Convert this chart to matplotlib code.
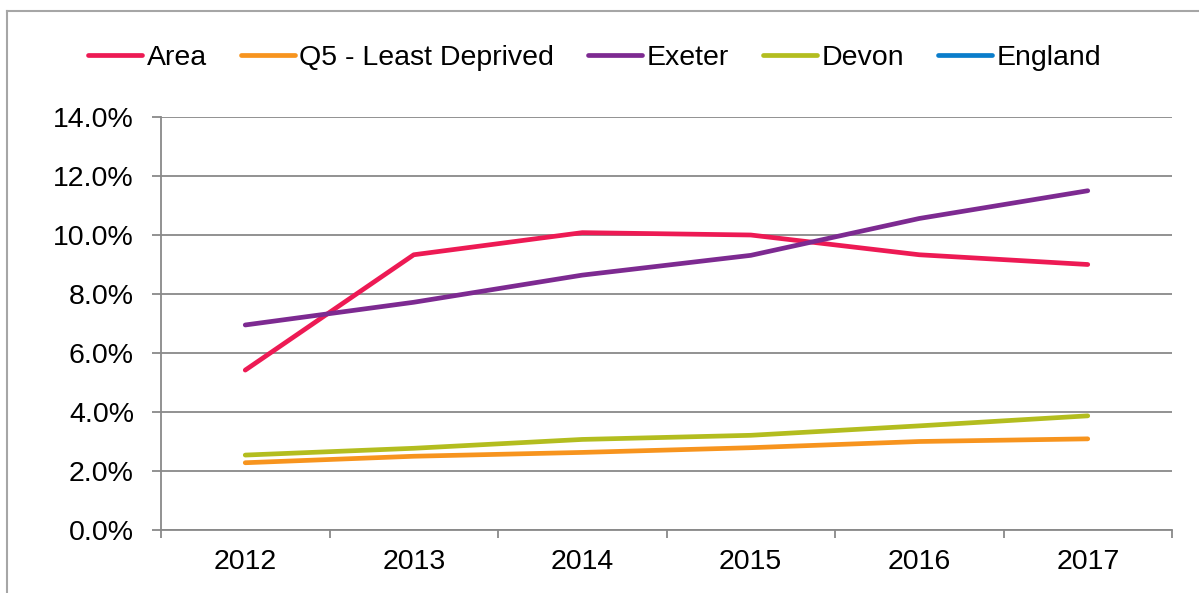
#!/usr/bin/env python3
# -*- coding: utf-8 -*-

"""Line chart of yearly rates by area."""

# dependencies
import numpy as np
from matplotlib import pyplot as plt
from matplotlib.lines import Line2D
from matplotlib.ticker import FixedLocator, PercentFormatter

# data
years = ['2012', '2013', '2014', '2015', '2016', '2017']
area = [5.42, 9.33, 10.08, 10.0, 9.33, 9.0]
q5_least_deprived = [2.28, 2.5, 2.63, 2.79, 3.0, 3.09]
exeter = [6.95, 7.72, 8.64, 9.31, 10.56, 11.5]
devon = [2.54, 2.77, 3.07, 3.21, 3.53, 3.87]
england = []

series = [
    ('Area', area, '#ED1A54'),
    ('Q5 - Least Deprived', q5_least_deprived, '#F7941E'),
    ('Exeter', exeter, '#7D2A91'),
    ('Devon', devon, '#B3BD1F'),
    ('England', england, '#0A7DCB'),
]

# fonts
plt.rcParams['font.family'] = ['Liberation Sans', 'DejaVu Sans']
plt.rcParams['font.size'] = 20.5

W, H = 1199, 593
fig = plt.figure(figsize=(W / 100, H / 100), dpi=100)
ax = fig.add_axes([161 / W, 1 - 530 / H, (1172 - 161) / W, (530 - 117) / H])

grey = '#898989'

# plot each line
x = np.arange(len(years))
for name, values, color in series:
    ax.plot(x[:len(values)], values, color=color, lw=3.4,
            solid_capstyle='round', label=name)

# axes
ax.set_xlim(-0.5, len(years) - 0.5)
ax.set_ylim(0, 14)
ax.set_xticks(x)
ax.set_xticklabels(years)
ax.xaxis.set_minor_locator(FixedLocator(np.arange(len(years) + 1) - 0.5))
ax.set_yticks(np.arange(0, 14.1, 2))
ax.yaxis.set_major_formatter(PercentFormatter(decimals=1))
ax.tick_params(axis='x', which='major', length=0, pad=14)
ax.tick_params(axis='x', which='minor', length=5.5, width=1.3, color=grey)
ax.tick_params(axis='y', length=6.5, width=1.3, color=grey, pad=13)
ax.grid(axis='y', color=grey, lw=1.3)
ax.set_axisbelow(True)
for side in ['top', 'right']:
    ax.spines[side].set_visible(False)
for side in ['left', 'bottom']:
    ax.spines[side].set_color(grey)
    ax.spines[side].set_linewidth(1.3)

# legend
fig.legend(loc='center', bbox_to_anchor=(0.496, 1 - 58 / H), ncol=5,
           frameon=False, handlelength=1.9, handletextpad=0.15,
           columnspacing=1.2, borderaxespad=0)

# outer frame (cut off at right and bottom)
frame_c = '#A6A6A6'
fig.add_artist(Line2D([7 / W, 7 / W], [0, 1 - 11 / H], color=frame_c, lw=1.5))
fig.add_artist(Line2D([7 / W, 1], [1 - 11 / H, 1 - 11 / H], color=frame_c, lw=1.5))

fig.savefig('out.png', dpi=100)
